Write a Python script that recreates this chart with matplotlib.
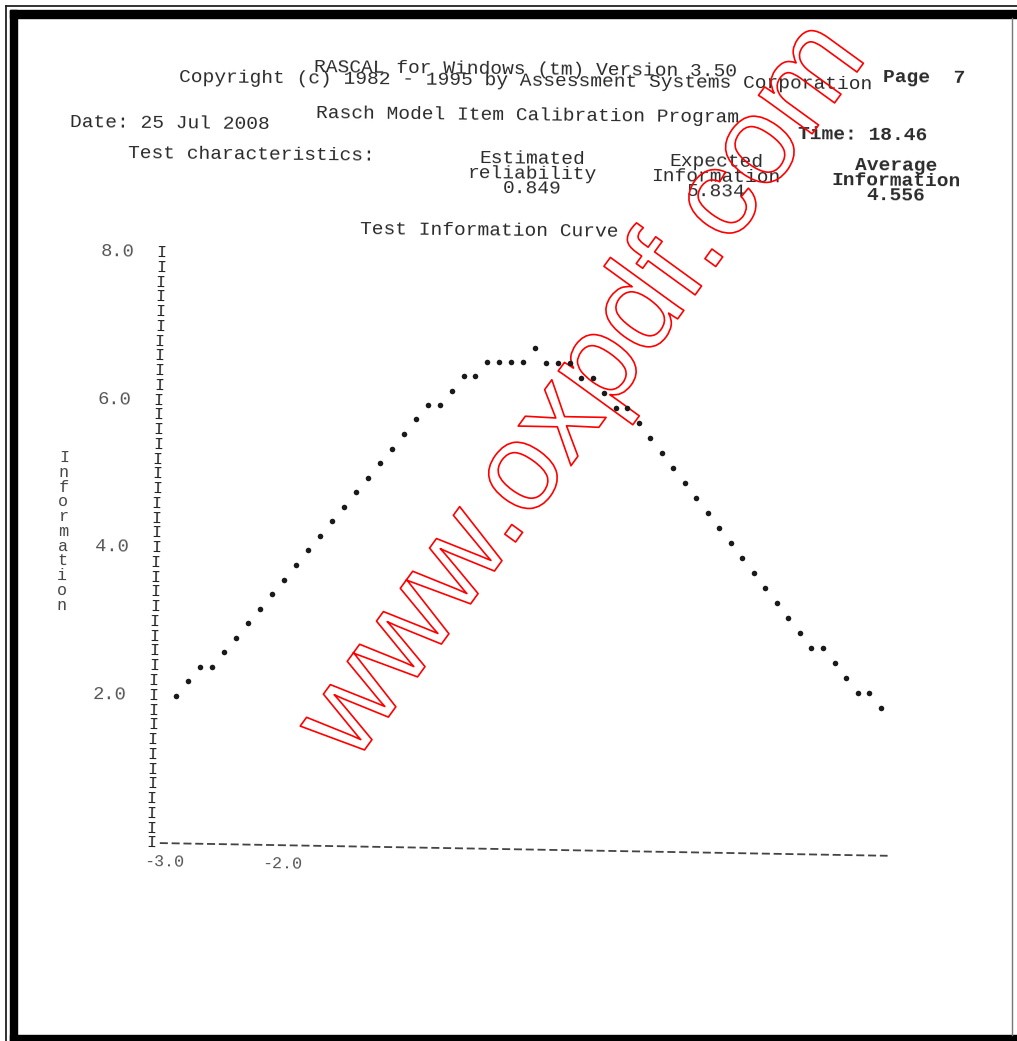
import numpy as np
import matplotlib.pyplot as plt
import matplotlib.patheffects as pe
from matplotlib.patches import Rectangle
from matplotlib.transforms import Affine2D
from matplotlib.font_manager import FontProperties

plt.rcParams['lines.scale_dashes'] = False

# ability scale (theta) and test information
theta = [-3.0, -2.9, -2.8, -2.7, -2.6, -2.5, -2.4, -2.3, -2.2, -2.1,
         -2.0, -1.9, -1.8, -1.7, -1.6, -1.5, -1.4, -1.3, -1.2, -1.1,
         -1.0, -0.9, -0.8, -0.7, -0.6, -0.5, -0.4, -0.3, -0.2, -0.1,
         0.0, 0.1, 0.2, 0.3, 0.4, 0.5, 0.6, 0.7, 0.8, 0.9,
         1.0, 1.1, 1.2, 1.3, 1.4, 1.5, 1.6, 1.7, 1.8, 1.9,
         2.0, 2.1, 2.2, 2.3, 2.4, 2.5, 2.6, 2.7, 2.8, 2.9, 3.0]
info = [2.0, 2.2, 2.4, 2.4, 2.6, 2.8, 3.0, 3.2, 3.4, 3.6,
        3.8, 4.0, 4.2, 4.4, 4.6, 4.8, 5.0, 5.2, 5.4, 5.6,
        5.8, 6.0, 6.0, 6.2, 6.4, 6.4, 6.6, 6.6, 6.6, 6.6,
        6.8, 6.6, 6.6, 6.6, 6.4, 6.4, 6.2, 6.0, 6.0, 5.8,
        5.6, 5.4, 5.2, 5.0, 4.8, 4.6, 4.4, 4.2, 4.0, 3.8,
        3.6, 3.4, 3.2, 3.0, 2.8, 2.8, 2.6, 2.4, 2.2, 2.2, 2.0]

y_ticks = [8.0, 6.0, 4.0, 2.0]
y_labels = ["8.0", "6.0", "4.0", "2.0"]
x_ticks = [-3.0, -2.0]
x_labels = ["-3.0", "-2.0"]
y_title = "Information"

W, H = 1017, 1041
INK = '#2b2b2b'
MONO = 'Liberation Mono'

fig = plt.figure(figsize=(W / 100, H / 100), dpi=100)
fig.patch.set_facecolor('white')
renderer = fig.canvas.get_renderer()

# page background in pixel coords (y down)
bg = fig.add_axes([0, 0, 1, 1])
bg.set_xlim(0, W)
bg.set_ylim(H, 0)
bg.axis('off')

# scanned frame
bg.plot([6, 6], [6, H], color='#222', lw=1.3)
bg.plot([6, W], [6, 6], color='#222', lw=1.3)
bg.plot([1012, 1012], [18, 1035], color='#777', lw=1.0)
bg.add_patch(Rectangle((10, 10), W - 10, 8, color='black'))
bg.add_patch(Rectangle((10, 10), 7, H - 10, color='black'))
bg.add_patch(Rectangle((10, 1035), W - 10, 6, color='black'))


def spacing(size, gap_px, bold=False):
    # linespacing that puts baselines gap_px apart
    fp = FontProperties(family=MONO, size=size,
                        weight='bold' if bold else 'normal')
    _, h, d = renderer.get_text_width_height_descent('lp', fp, ismath=False)
    return (gap_px - d) / (h - d)


def head(x, y, s, size=14, ha='left', bold=False, gap=15):
    bg.text(x, y, s, fontsize=size, family=MONO, color=INK, ha=ha, va='center',
            multialignment='center', linespacing=spacing(size, gap, bold),
            rotation=-0.6, rotation_mode='anchor',
            fontweight='bold' if bold else 'normal')


head(526, 75, "RASCAL for Windows (tm) Version 3.50\n"
              "Copyright (c) 1982 - 1995 by Assessment Systems Corporation",
     ha='center', gap=11.5)
head(883, 78, "Page  7", bold=True)
head(316, 114, "Rasch Model Item Calibration Program")
head(70, 123, "Date: 25 Jul 2008")
head(798, 135, "Time: 18.46", bold=True)
head(128, 154, "Test characteristics:")
head(532, 174, "Estimated\nreliability\n0.849", ha='center')
head(716, 177, "Expected\nInformation\n5.834", ha='center')
head(896, 181, "Average\nInformation\n4.556", ha='center', bold=True)
head(360, 230, "Test Information Curve")

# plot area, slightly tilted like the scan
X0, XS = 178.5, 117.5   # pixel of theta=-3, pixels per unit
Y8, YS = 259.0, 73.8    # pixel of info=8, pixels per unit
ax = fig.add_axes([0, 0, 1, 1])
ax.patch.set_visible(False)
ax.axis('off')
ax.set_xlim(-3 - X0 / XS, -3 + (W - X0) / XS)
ax.set_ylim(8 - (H - Y8) / YS, 8 + Y8 / YS)
tilt = Affine2D().rotate_deg_around(525, H - 550, -1.0)
tr = ax.transData + tilt

ax.scatter(theta, info, s=16, marker='o', color='#1a1a1a', linewidths=0,
           transform=tr, zorder=3)

# text-mode axis made of I's and dashes
rows = np.round(np.arange(8.0, -0.1, -0.2), 1)
for v in rows:
    ax.text(-3.19, v, 'I', fontsize=12, family=MONO, color='#222', ha='center',
            va='center', rotation=-1, rotation_mode='anchor', transform=tr)
ax.plot([-3.115, 3.08], [0, 0], ls=(0, (5.8, 2.7)), lw=1.3, color='#444',
        transform=tr)

for v, lab in zip(y_ticks, y_labels):
    ax.text(-3.42, v, lab, fontsize=13.5, family=MONO, color='#555', ha='right',
            va='center', rotation=-1, rotation_mode='anchor', transform=tr)
for t, lab in zip(x_ticks, x_labels):
    ax.text(t + 0.1, -0.25, lab, fontsize=12, family=MONO, color='#555',
            ha='right', va='center', rotation=-1, rotation_mode='anchor',
            transform=tr)
for i, ch in enumerate(y_title):
    ax.text(-3.985, 5.2 - 0.2 * i, ch, fontsize=12, family=MONO, color='#444',
            ha='center', va='center', rotation=-1, rotation_mode='anchor',
            transform=tr)

# red outlined watermark
bg.text(585, 392, "www.oxpdf.com", fontsize=90, family='Liberation Sans',
        color='none', ha='center', va='center', rotation=54,
        rotation_mode='anchor', zorder=10,
        path_effects=[pe.Stroke(linewidth=1.2, foreground='red')])

fig.savefig('out.png', dpi=100, facecolor='white')
